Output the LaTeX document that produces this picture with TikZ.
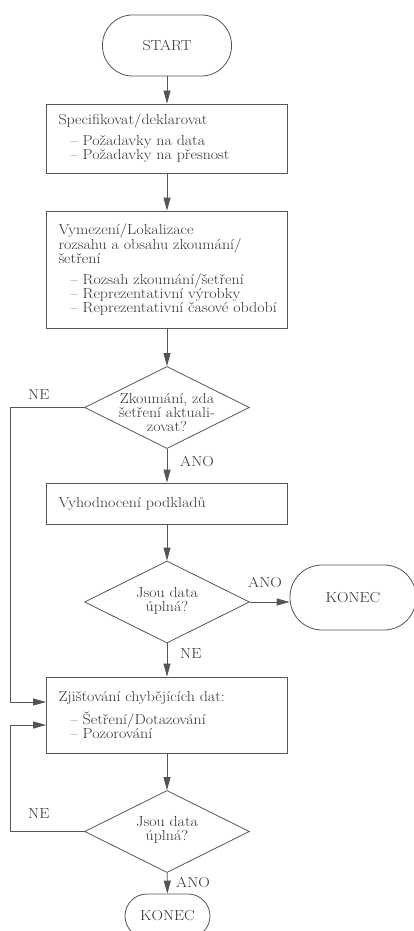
\documentclass[tikz,border=0pt]{standalone}
\usepackage{fontspec}
\setmainfont{Latin Modern Roman}[FakeStretch=1.1]
\usetikzlibrary{arrows.meta,shapes.geometric}
\definecolor{ink}{HTML}{333333}
\definecolor{edge}{HTML}{555555}
\begin{document}
\begin{tikzpicture}[x=1pt,y=-1pt,
  every node/.style={text=ink, font=\fontsize{14.5}{14}\selectfont},
  flowbox/.style={draw=edge, line width=0.8pt, rectangle, minimum width=241pt,
    inner xsep=12pt, text width=217pt, align=left},
  term/.style={draw=edge, line width=0.8pt, rectangle, align=center},
  dia/.style={draw=edge, line width=0.8pt, diamond, minimum width=165pt,
    minimum height=82pt, inner sep=0pt},
  diatext/.style={align=center, inner sep=0pt},
  lbl/.style={inner sep=0pt},
  arr/.style={draw=edge, line width=0.8pt, -{Triangle[length=13pt,width=7pt]}}]
\useasboundingbox (0,0) rectangle (414,931);
\fill[white] (0,0) rectangle (414,931);

% terminals
\node[term, minimum width=129pt, minimum height=61pt, rounded corners=30pt] (start) at (167,45.5) {START};
\node[term, minimum width=126pt, minimum height=65pt, rounded corners=32pt] (end1) at (353,597.5) {KONEC};
\node[term, minimum width=85pt, minimum height=44pt, rounded corners=22pt] (end2) at (167.5,916) {KONEC};

% process boxes
\node[flowbox, minimum height=69pt] (b1) at (167,138.5)
  {Specifikovat/deklarovat\\[7pt]
   \hspace*{12pt}– Požadavky na data\\
   \hspace*{12pt}– Požadavky na přesnost};
\node[flowbox, minimum height=117pt] (b2) at (167,269.5)
  {Vymezení/Lokalizace\\
   rozsahu a obsahu zkoumání/\\
   šetření\\[7pt]
   \hspace*{12pt}– Rozsah zkoumání/šetření\\
   \hspace*{12pt}– Reprezentativní výrobky\\
   \hspace*{12pt}\mbox{– Reprezentativní časové období}};
\node[flowbox, minimum height=41pt] (b4) at (167,503.5) {Vyhodnocení podkladů};
\node[flowbox, minimum height=76pt] (b5) at (167,715)
  {Zjišťování chybějících dat:\\[7pt]
   \hspace*{12pt}– Šetření/Dotazování\\
   \hspace*{12pt}– Pozorování};

% decisions
\node[dia] (q1) at (167,407.5) {};
\node[diatext] (q1t) at (167,413) {Zkoumání, zda\\šetření aktuali-\\zovat?};
\node[dia] (q2) at (167,602) {};
\node[diatext] (q2t) at (167,601) {Jsou data\\úplná?};
\node[dia] (q3) at (167,831.5) {};
\node[diatext] (q3t) at (167,830) {Jsou data\\úplná?};

% return line column
\coordinate (lx) at (10,0);

% connectors
\draw[arr] (start) -- (b1);
\draw[arr] (b1) -- (b2);
\draw[arr] (b2) -- (q1);
\draw[arr] (q1) -- (b4);
\draw[arr] (b4) -- (q2);
\draw[arr] (q2.east) -- (q2.east -| end1.west);
\draw[arr] (q2) -- (b5);
\draw[arr] (b5) -- (q3);
\draw[arr] (q3) -- (end2);
\draw[arr] (q1.west) -- (q1.west -| lx) |- ([yshift=13pt]b5.west);
\draw[arr] (q3.west) -- (q3.west -| lx) |- ([yshift=-10pt]b5.west);

% branch labels
\node[lbl, anchor=west] (ne1) at (28,395) {NE};
\node[lbl, anchor=west] (ano1) at (180,461) {ANO};
\node[lbl, anchor=west] (ano2) at (248,582) {ANO};
\node[lbl, anchor=west] (ne2) at (180,654) {NE};
\node[lbl, anchor=west] (ne3) at (28,814) {NE};
\node[lbl, anchor=west] (ano3) at (176,882) {ANO};
\end{tikzpicture}
\end{document}
